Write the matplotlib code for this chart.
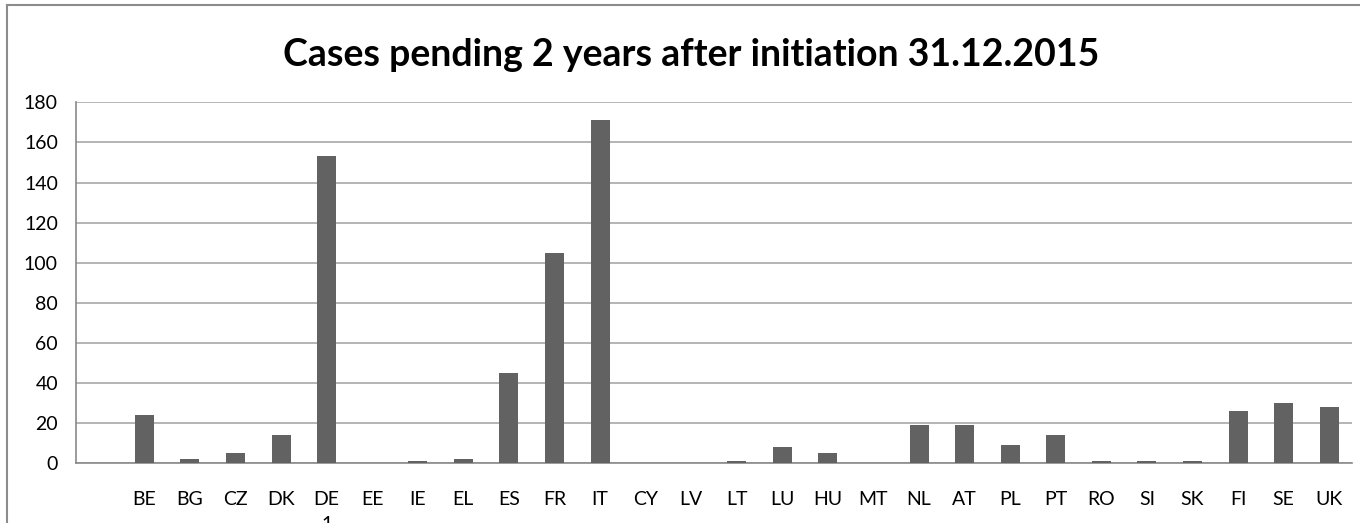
import matplotlib.pyplot as plt
from matplotlib.lines import Line2D

# Datos
paises = ['BE', 'BG', 'CZ', 'DK', 'DE', 'EE', 'IE', 'EL', 'ES', 'FR', 'IT', 'CY', 'LV', 'LT',
          'LU', 'HU', 'MT', 'NL', 'AT', 'PL', 'PT', 'RO', 'SI', 'SK', 'FI', 'SE', 'UK']
casos = [24, 2, 5, 14, 153, 0, 1, 2, 45, 105, 171, 0, 0, 1,
         8, 5, 0, 19, 19, 9, 14, 1, 1, 1, 26, 30, 28]
yticks = list(range(0, 181, 20))

plt.rcParams['font.family'] = ['Lato', 'DejaVu Sans']

fig = plt.figure(figsize=(13.6, 5.23), dpi=100)
ax = fig.add_axes([76 / 1360, 1 - 463.3 / 523, (1352 - 76) / 1360, (463.3 - 102.3) / 523])

x = list(range(len(paises)))
ax.bar(x, casos, width=0.42, color='#626262', zorder=3)

ax.set_xlim(-1.5, len(paises) - 0.5)
ax.set_ylim(0, 180)
ax.set_yticks(yticks)
ax.set_xticks(x)
ax.set_xticklabels(paises)
ax.tick_params(axis='both', length=0, labelsize=14, colors='black')
ax.tick_params(axis='y', pad=13)
ax.tick_params(axis='x', pad=20)

ax.grid(axis='y', color='#a8a8a8', linewidth=1.2, zorder=0)
for lado in ['top', 'right']:
    ax.spines[lado].set_visible(False)
for lado in ['left', 'bottom']:
    ax.spines[lado].set_color('#8a8a8a')
    ax.spines[lado].set_linewidth(1.2)

# Titulo
fig.text(0.508, 1 - 66 / 523, 'Cases pending 2 years after initiation 31.12.2015',
         ha='center', va='baseline', fontsize=27, fontweight='bold')

# Borde del grafico (recortado abajo y a la derecha)
fig.add_artist(Line2D([7 / 1360, 1.0], [1 - 5 / 523, 1 - 5 / 523], transform=fig.transFigure,
                      color='#8c8c8c', linewidth=1.5))
fig.add_artist(Line2D([7 / 1360, 7 / 1360], [1 - 5 / 523, 0.0], transform=fig.transFigure,
                      color='#8c8c8c', linewidth=1.5))

# Numero de pagina cortado abajo
fig.text(327 / 1360, 1 - 516 / 523, '1', ha='center', va='top', fontsize=14)

fig.savefig('out.png', dpi=100)
